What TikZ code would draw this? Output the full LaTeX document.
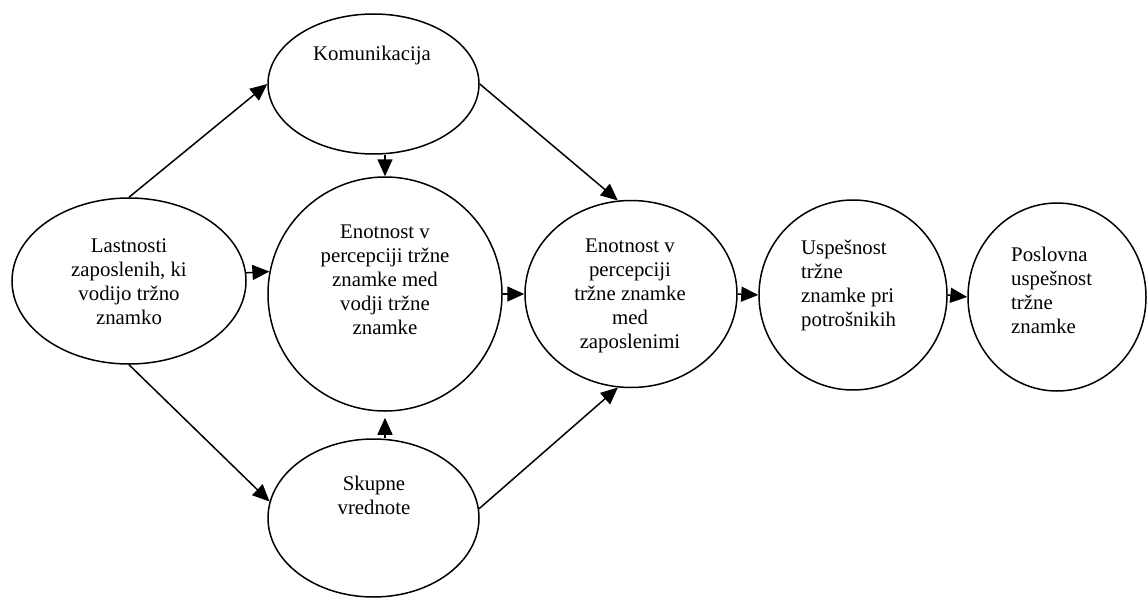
\documentclass[tikz,border=0pt]{standalone}
\usepackage{fontspec}
\setmainfont{Liberation Serif}
\usetikzlibrary{shapes.geometric,arrows.meta}
\begin{document}
\begin{tikzpicture}[x=1pt,y=-1pt,
 oval/.style={draw, ellipse, line width=1.5pt, inner sep=0pt},
 lbl/.style={inner sep=0pt, font=\fontsize{20.8}{24}\selectfont, align=center},
 lbll/.style={lbl, align=left, anchor=west},
 conn/.style={line width=1.5pt, -{Triangle[length=17pt,width=15pt]}}]
\useasboundingbox (0,0) rectangle (1148,599);
% ellipses
\node[oval, minimum width=211pt, minimum height=140pt] (kom) at (373.5,84) {};
\node[oval, minimum width=234pt, minimum height=166pt] (last) at (129,281) {};
\node[oval, minimum width=234pt, minimum height=234pt] (ev) at (385,294) {};
\node[oval, minimum width=211pt, minimum height=158pt] (sk) at (373.5,518) {};
\node[oval, minimum width=212pt, minimum height=187pt] (ez) at (631,294) {};
\node[oval, minimum width=188pt, minimum height=190pt] (us) at (853,295) {};
\node[oval, minimum width=178pt, minimum height=188pt] (po) at (1057,297) {};
% texts
\node[lbl] (komt) at (372,55) {Komunikacija};
\node[lbl] (lastt) at (129,282) {Lastnosti\\zaposlenih, ki\\vodijo tržno\\znamko};
\node[lbl] (evt) at (385,280) {Enotnost v\\percepciji tržne\\znamke med\\vodji tržne\\znamke};
\node[lbl] (skt) at (374,495) {Skupne\\vrednote};
\node[lbl] (ezt) at (630,296) {Enotnost v\\percepciji\\tržne znamke\\med\\zaposlenimi};
\node[lbll] (ust) at (801,285) {Uspešnost\\tržne\\znamke pri\\potrošnikih};
\node[lbll] (post) at (1011,290) {Poslovna\\uspešnost\\tržne\\znamke};
% connectors
\draw[conn] (last.north) -- (kom.west);
\draw[conn] (last.south) -- (sk.171);
\draw[conn] (last.4.4) -- (ev.169);
\draw[conn] (kom.south -| ev.north) -- (ev.north);
\draw[conn, shorten >=6pt] (sk.north -| ev.south) -- (ev.south);
\draw[conn] (kom.east) -- (ez.98);
\draw[conn] (sk.5) -- (ez.262);
\draw[conn] (ev.east) -- (ez.west);
\draw[conn] (ez.east) -- (us.west);
\draw[conn] (us.east) -- (po.west);
\end{tikzpicture}
\end{document}
